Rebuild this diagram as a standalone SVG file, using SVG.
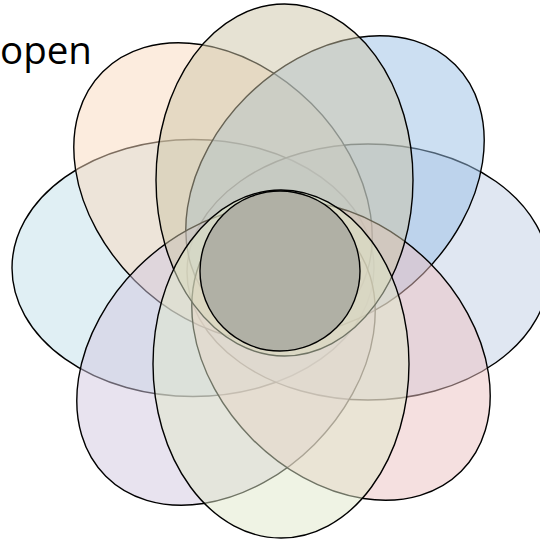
<svg xmlns="http://www.w3.org/2000/svg" width="540" height="543" viewBox="0 0 540 543">
<style>
.p{stroke:#000;stroke-width:1.4;fill-opacity:0.5}
.t{font-family:"Open Sans","Noto Sans","Liberation Sans",sans-serif;font-size:38.5px;fill:#000}
</style>
<rect width="540" height="543" fill="#fff"/>
<text class="t" x="0" y="64">open</text>
<g id="west"><ellipse class="p" cx="193" cy="268" rx="181" ry="128.5" fill="#C1DFE9"/></g>
<g id="east"><ellipse class="p" cx="368" cy="272" rx="181" ry="128" fill="#C1CFE5"/></g>
<g id="northwest"><ellipse class="p" cx="223" cy="192" rx="125" ry="170" transform="rotate(-45 223 192)" fill="#F9D9BD"/></g>
<g id="northeast"><ellipse class="p" cx="335" cy="185" rx="125" ry="170" transform="rotate(45 335 185)" fill="#99BFE5"/></g>
<g id="southwest"><ellipse class="p" cx="226" cy="356" rx="125" ry="170" transform="rotate(45 226 356)" fill="#D1C7DF"/></g>
<g id="southeast"><ellipse class="p" cx="341" cy="351" rx="125" ry="170" transform="rotate(-45 341 351)" fill="#EBC1C1"/></g>
<g id="north"><ellipse class="p" cx="284.5" cy="180" rx="128.5" ry="176" fill="#CDC5A7"/></g>
<g id="south"><ellipse class="p" cx="281" cy="364" rx="128" ry="174" fill="#DFE7C9"/></g>
<g id="center"><circle cx="280" cy="271" r="80" fill="#B0B0A5" stroke="#000" stroke-width="1.4"/></g>
</svg>
